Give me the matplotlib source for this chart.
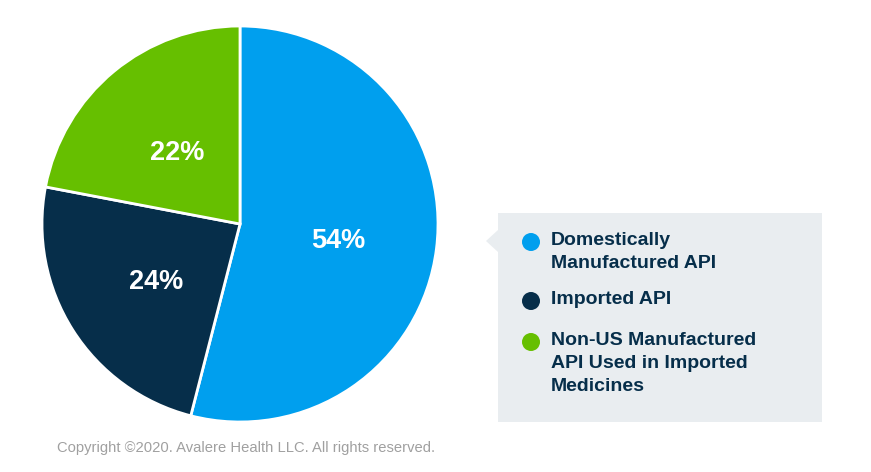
import matplotlib.pyplot as plt
from matplotlib.patches import Rectangle, Polygon, Circle

plt.rcParams['font.family'] = ['Liberation Sans', 'DejaVu Sans']

labels = ['Domestically\nManufactured API', 'Imported API',
          'Non-US Manufactured\nAPI Used in Imported\nMedicines']
values = [54, 24, 22]
colors = ['#009FEE', '#062E4A', '#66BF00']

W, H = 871, 472
fig = plt.figure(figsize=(W / 100, H / 100), dpi=100)

# overlay in pixel coords
bg = fig.add_axes([0, 0, 1, 1])
bg.set_xlim(0, W)
bg.set_ylim(H, 0)
bg.axis('off')

# pie
cx, cy, r = 240, 224, 198
pa = fig.add_axes([(cx - r) / W, (H - cy - r) / H, 2 * r / W, 2 * r / H])
wedges, texts, autotexts = pa.pie(values, colors=colors, startangle=90, counterclock=False,
                                  autopct='%d%%', pctdistance=0.5,
                                  wedgeprops=dict(edgecolor='white', linewidth=2))
for t in autotexts:
    t.set_color('white')
    t.set_fontsize(19.5)
    t.set_fontweight('bold')
    x, y = t.get_position()
    t.set_position((x, y - 0.025))
pa.set_xlim(-1, 1)
pa.set_ylim(-1, 1)
pa.set_aspect('equal')

# legend box
bg.add_patch(Rectangle((498, 213), 324, 209, facecolor='#E9EDF0', edgecolor='none'))
bg.add_patch(Polygon([(498, 230), (486, 241), (498, 252)], closed=True,
                     facecolor='#E9EDF0', edgecolor='none'))
ys = [242, 301, 342]
for lab, c, y in zip(labels, colors, ys):
    bg.add_patch(Circle((531, y), 9, facecolor=c, edgecolor='none'))
    bg.text(551, y - 10, lab, fontsize=14, fontweight='bold', color='#062E4A',
            va='top', ha='left', linespacing=1.45)

bg.text(57, 448, 'Copyright ©2020. Avalere Health LLC. All rights reserved.',
        fontsize=10.6, color='#A0A0A0', va='center', ha='left')

fig.savefig('out.png', dpi=100)
